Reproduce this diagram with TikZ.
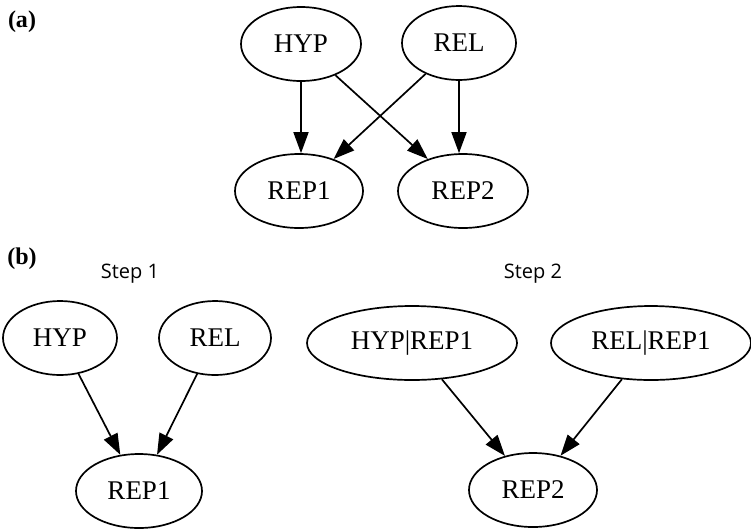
\documentclass[tikz,border=0pt]{standalone}
\usepackage{fontspec}
\setmainfont{Liberation Serif}
\newfontfamily\stepfont{Open Sans}
\usetikzlibrary{shapes.geometric,arrows.meta}
\begin{document}
\begin{tikzpicture}[x=1pt,y=-1pt,
  ell/.style={ellipse,draw,line width=1.7pt,inner sep=0pt,minimum height=74pt,font=\fontsize{27}{27}\selectfont},
  conn/.style={line width=1.7pt,-{Triangle[length=21pt,width=15pt]}},
  panel/.style={font=\fontsize{24}{24}\selectfont\bfseries},
  steplabel/.style={font=\fontsize{20}{20}\stepfont}]
\useasboundingbox (0,0) rectangle (751,528);
% (a)
\node[panel] (pa) at (22,22) {(a)};
\node[ell,minimum width=120pt] (ahyp) at (301,44) {HYP};
\node[ell,minimum width=114pt] (arel) at (459,43) {REL};
\node[ell,minimum width=128pt] (arep1) at (299,191) {REP1};
\node[ell,minimum width=130pt] (arep2) at (463,191) {REP2};
\draw[conn] (ahyp.south) -- (arep1.north -| ahyp.south);
\draw[conn] (ahyp) -- (arep2);
\draw[conn] (arel) -- (arep1);
\draw[conn] (arel.south) -- (arep2.north -| arel.south);
% (b)
\node[panel] (pb) at (22,259) {(b)};
\node[steplabel] (s1) at (130,274) {Step 1};
\node[steplabel] (s2) at (533,274) {Step 2};
\node[ell,minimum width=114pt] (bhyp) at (60,338) {HYP};
\node[ell,minimum width=112pt] (brel) at (215,338) {REL};
\node[ell,minimum width=126pt] (brep1) at (139,491) {REP1};
\node[ell,minimum width=210pt] (bhr) at (412,343) {HYP|REP1};
\node[ell,minimum width=200pt] (brr) at (651,343) {REL|REP1};
\node[ell,minimum width=128pt] (brep2) at (533,490) {REP2};
\draw[conn] (bhyp) -- (brep1);
\draw[conn] (brel) -- (brep1);
\draw[conn] (bhr) -- (brep2);
\draw[conn] (brr) -- (brep2);
\end{tikzpicture}
\end{document}
